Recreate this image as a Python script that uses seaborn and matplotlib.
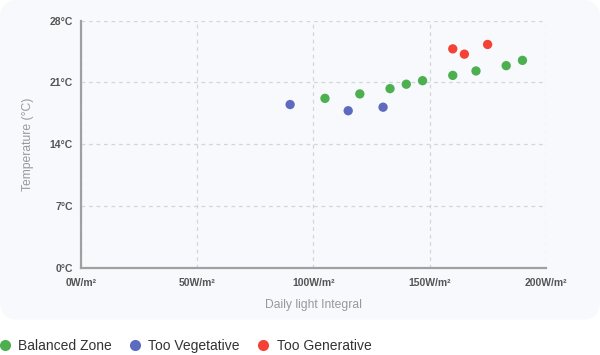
import pandas as pd
import numpy as np
import seaborn as sns
import matplotlib.pyplot as plt
from matplotlib.patches import FancyBboxPatch
from matplotlib.lines import Line2D

# data
balanced_x = [105, 120, 133, 140, 147, 160, 170, 183, 190]
balanced_y = [19.2, 19.7, 20.3, 20.8, 21.2, 21.8, 22.3, 22.9, 23.5]
vegetative_x = [90, 115, 130]
vegetative_y = [18.5, 17.8, 18.2]
generative_x = [160, 165, 175]
generative_y = [24.8, 24.2, 25.3]

zones = ["Balanced Zone", "Too Vegetative", "Too Generative"]
zone_colors = ["#4CAF50", "#5C6BC0", "#F44336"]

x_ticks = [0, 50, 100, 150, 200]
y_ticks = [0, 7, 14, 21, 28]

df = pd.DataFrame({
    "dli": balanced_x + vegetative_x + generative_x,
    "temp": balanced_y + vegetative_y + generative_y,
    "zone": [zones[0]] * len(balanced_x) + [zones[1]] * len(vegetative_x)
            + [zones[2]] * len(generative_x),
})

sns.set_style("white")
plt.rcParams["font.family"] = ["Liberation Sans", "DejaVu Sans"]

fig = plt.figure(figsize=(6, 3.55), dpi=100)
fig.patch.set_facecolor("white")

# light card behind the chart
card = FancyBboxPatch((0.0, 0.1), 1.0, 0.9, boxstyle="round,pad=0,rounding_size=0.03",
                      transform=fig.transFigure, facecolor="#F7F9FC",
                      edgecolor="none", mutation_aspect=600 / 355, zorder=-5)
fig.patches.append(card)

ax = fig.add_axes([0.135, 0.245, 0.7745, 0.697])
ax.set_facecolor("none")
ax.set_zorder(2)

sns.scatterplot(data=df, x="dli", y="temp", hue="zone", hue_order=zones,
                palette=zone_colors, s=45, edgecolor="none", ax=ax, zorder=3,
                legend=False)

ax.set_xlim(0, 200)
ax.set_ylim(0, 28)
ax.set_xticks(x_ticks)
ax.set_xticklabels([f"{t}W/m²" for t in x_ticks])
ax.set_yticks(y_ticks)
ax.set_yticklabels([f"{t}°C" for t in y_ticks])

ax.grid(True, color="#D5D5D5", linestyle=(0, (3, 3)), linewidth=0.9)
for s in ["top", "right"]:
    ax.spines[s].set_visible(False)
for s in ["left", "bottom"]:
    ax.spines[s].set_color("#A0A0A0")
    ax.spines[s].set_linewidth(1.6)
ax.tick_params(axis="both", length=5, width=1, color="#A0A0A0",
               labelsize=7.5, labelcolor="#555555", pad=1)
ax.tick_params(axis="x", pad=2)
for lbl in ax.get_xticklabels() + ax.get_yticklabels():
    lbl.set_fontweight("bold")

ax.set_xlabel("Daily light Integral", color="#999999", fontsize=8.7, labelpad=8)
ax.set_ylabel("Temperature (°C)", color="#999999", fontsize=8.7, labelpad=11)

handles = [Line2D([], [], marker="o", linestyle="none", markersize=8,
                  markerfacecolor=c, markeredgecolor="none") for c in zone_colors]
leg = fig.legend(handles, zones, loc="center left", bbox_to_anchor=(-0.004, 0.026),
                 ncol=3, frameon=False, fontsize=10, handletextpad=0.45,
                 columnspacing=1.2, handlelength=1.0, borderpad=0, borderaxespad=0)
for t in leg.get_texts():
    t.set_color("#333333")

plt.savefig("out.png", dpi=100)
